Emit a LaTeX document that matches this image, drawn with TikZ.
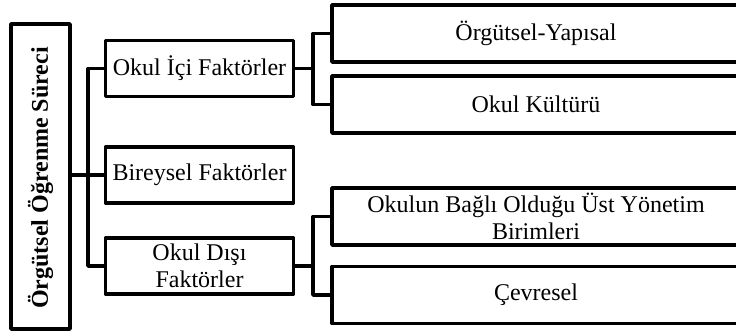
\documentclass[tikz,border=0pt]{standalone}
\usepackage{fontspec}
\setmainfont{Liberation Serif}
\begin{document}
\begin{tikzpicture}[x=0.5pt,y=-0.5pt,
  box/.style={draw,line width=1.9pt,line join=round,inner sep=0pt,
    font=\fontsize{12}{13.3}\selectfont,align=center},
  midbox/.style={box,minimum width=94pt,minimum height=28pt},
  sidebox/.style={box,minimum width=204pt,minimum height=28.5pt},
  link/.style={line width=1.9pt,line join=round}]
\useasboundingbox (0,0) rectangle (736,331);
\clip (0,0) rectangle (736,331);

% main process box with its rotated title
\node[box,minimum width=29.5pt,minimum height=152.5pt] (proc) at (40.5,176.5) {};
\node[rotate=90,inner sep=0pt,font=\bfseries\fontsize{12}{14}\selectfont] (proctitle) at (40.5,178) {Örgütsel Öğrenme Süreci};

% factor groups
\node[midbox] (ici) at (199.5,68.5) {Okul İçi Faktörler};
\node[midbox] (bir) at (199.5,175) {Bireysel Faktörler};
\node[midbox] (dis) at (199.5,266) {Okul Dışı\\Faktörler};

% sub-factors
\node[sidebox] (org) at (536,33.5) {Örgütsel-Yapısal};
\node[sidebox] (kul) at (536,104.5) {Okul Kültürü};
\node[sidebox] (ust) at (536,216.5) {Okulun Bağlı Olduğu Üst Yönetim\\Birimleri};
\node[sidebox] (cev) at (536,295) {Çevresel};

% bus positions
\coordinate (lbus) at (88,0);
\coordinate (rbusA) at (313,0);
\coordinate (rbusB) at (313,0);

% connectors
\draw[link] (proc.east |- bir.west) -- (bir.west);
\draw[link] (ici.west) -| (lbus |- dis.west) -- (dis.west);

\draw[link] (ici.east) -- (rbusA |- ici.east);
\draw[link] (org.west) -| (rbusA |- kul.west) -- (kul.west);

\draw[link] (dis.east) -- (rbusB |- dis.east);
\draw[link] (ust.west) -| (rbusB |- cev.west) -- (cev.west);
\end{tikzpicture}
\end{document}
